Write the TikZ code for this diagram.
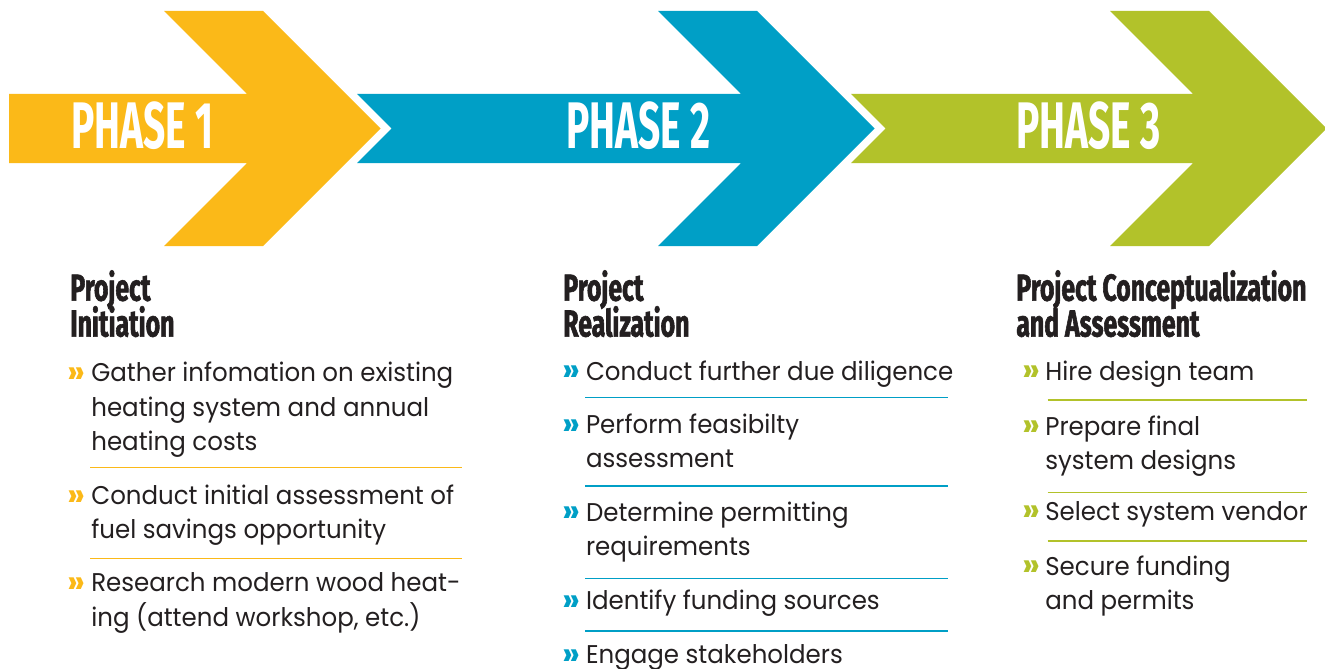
\documentclass[tikz,border=0pt]{standalone}
\usepackage{fontspec}
\setmainfont{Poppins}[FakeStretch=0.955]
\newfontfamily\phasefont{Fira Sans}[FakeStretch=0.59]
\newfontfamily\headfont{Fira Sans}[FakeStretch=0.66,FakeBold=1.5]
\definecolor{yellowph}{RGB}{251,185,24}
\definecolor{blueph}{RGB}{0,159,198}
\definecolor{greenph}{RGB}{178,194,42}
\definecolor{inkgray}{RGB}{35,31,32}
% lines of a node, baseline on the first one
\newcommand{\stack}[1]{\vtop{\lineskiplimit=-100pt\let\\\cr\halign{##\hfil\cr#1\crcr}}}
\tikzset{
  phaselabel/.style={anchor=base west, inner sep=0pt, text=white,
    font=\phasefont\bfseries\fontsize{37.5}{40}\selectfont},
  headlabel/.style={anchor=base west, inner sep=0pt, text=inkgray,
    font=\headfont\bfseries\fontsize{21.4}{20.4}\selectfont},
  itemtext/.style={anchor=base west, inner sep=0pt, text=inkgray,
    font=\fontsize{14.6}{19.6}\selectfont},
  bulletmark/.style={anchor=base west, inner sep=0pt, text=#1, yshift=-1pt,
    font=\bfseries\fontsize{19}{19}\selectfont},
  sepline/.style={draw=#1, line width=0.9pt}
}
\begin{document}
\begin{tikzpicture}[x=0.02cm, y=-0.02cm]
    \useasboundingbox (0,0) rectangle (1325,669);

    % chevrons
    \fill[yellowph] (9,94) -- (247,94) -- (164,11) -- (263,11) -- (380.5,128.5)
        -- (263,246) -- (164,246) -- (247,163) -- (9,163) -- cycle;
    \fill[blueph] (357,94) -- (741,94) -- (658,11) -- (757,11) -- (874.5,128.5)
        -- (757,246) -- (658,246) -- (741,163) -- (357,163) -- (391.5,128.5) -- cycle;
    \fill[greenph] (851,94) -- (1193,94) -- (1110,11) -- (1209,11) -- (1326.5,128.5)
        -- (1209,246) -- (1110,246) -- (1193,163) -- (851,163) -- (885.5,128.5) -- cycle;

    \node[phaselabel] (ph1) at (71,149) {PHASE 1};
    \node[phaselabel] (ph2) at (566,149) {PHASE 2};
    \node[phaselabel] (ph3) at (1016,149) {PHASE 3};

    % phase 1
    \node[headlabel] (hd1) at (70,300.7) {\stack{Project\\Initiation}};
    \node[bulletmark=yellowph] (b11) at (67,381.7) {»};
    \node[itemtext] (t11) at (91,381.7) {\stack{Gather infomation on existing\\heating system and annual\\heating costs}};
    \draw[sepline=yellowph] (90,467.3) -- (462,467.3);
    \node[bulletmark=yellowph] (b12) at (67,504.3) {»};
    \node[itemtext] (t12) at (91,504.3) {\stack{Conduct initial assessment of\\fuel savings opportunity}};
    \draw[sepline=yellowph] (90,558.3) -- (462,558.3);
    \node[bulletmark=yellowph] (b13) at (67,591.7) {»};
    \node[itemtext] (t13) at (91,591.7) {\stack{Research modern wood heat-\\ing (attend workshop, etc.)}};

    % phase 2
    \node[headlabel] (hd2) at (563,300.7) {\stack{Project\\Realization}};
    \node[bulletmark=blueph] (b21) at (562,380) {»};
    \node[itemtext] (t21) at (585.7,380) {Conduct further due diligence};
    \draw[sepline=blueph] (585,397.7) -- (948,397.7);
    \node[bulletmark=blueph] (b22) at (562,433.3) {»};
    \node[itemtext] (t22) at (585.7,433.3) {\stack{Perform feasibilty\\assessment}};
    \draw[sepline=blueph] (585,486) -- (948,486);
    \node[bulletmark=blueph] (b23) at (562,521) {»};
    \node[itemtext] (t23) at (585.7,521) {\stack{Determine permitting\\requirements}};
    \draw[sepline=blueph] (585,578.3) -- (948,578.3);
    \node[bulletmark=blueph] (b24) at (562,609.3) {»};
    \node[itemtext] (t24) at (585.7,609.3) {Identify funding sources};
    \draw[sepline=blueph] (585,631) -- (948,631);
    \node[bulletmark=blueph] (b25) at (562,663.3) {»};
    \node[itemtext] (t25) at (585.7,663.3) {Engage stakeholders};

    % phase 3
    \node[headlabel] (hd3) at (1016,300.7) {\stack{Project Conceptualization\\and Assessment}};
    \node[bulletmark=greenph] (b31) at (1022,380) {»};
    \node[itemtext] (t31) at (1045,380) {Hire design team};
    \draw[sepline=greenph] (1047.7,400) -- (1307.3,400);
    \node[bulletmark=greenph] (b32) at (1022,435) {»};
    \node[itemtext] (t32) at (1045,435) {\stack{Prepare final\\system designs}};
    \draw[sepline=greenph] (1047.7,492.7) -- (1307.3,492.7);
    \node[bulletmark=greenph] (b33) at (1022,520) {»};
    \node[itemtext] (t33) at (1045,520) {Select system vendor};
    \draw[sepline=greenph] (1047.7,541) -- (1307.3,541);
    \node[bulletmark=greenph] (b34) at (1022,575) {»};
    \node[itemtext] (t34) at (1045,575) {\stack{Secure funding\\and permits}};
\end{tikzpicture}
\end{document}
